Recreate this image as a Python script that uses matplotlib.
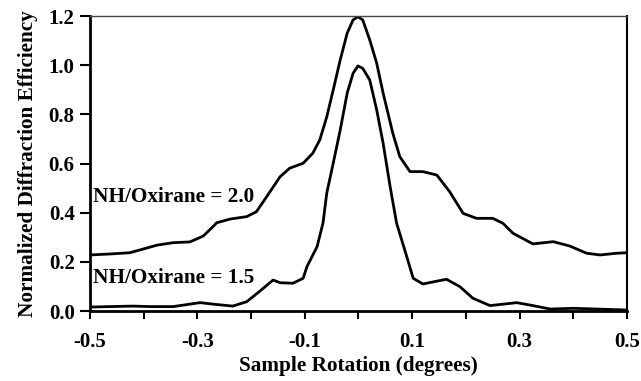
import numpy as np
import matplotlib
matplotlib.use('Agg')
from matplotlib import pyplot as plt

# NH/Oxirane = 2.0 curve
x_20 = [-0.5, -0.463, -0.426, -0.401, -0.375, -0.345, -0.314, -0.289, -0.271, -0.264,
        -0.239, -0.208, -0.19, -0.171, -0.146, -0.128, -0.103, -0.085, -0.072, -0.059,
        -0.047, -0.034, -0.021, -0.010, -0.001, 0.008, 0.021, 0.034, 0.046, 0.064,
        0.077, 0.096, 0.120, 0.146, 0.170, 0.195, 0.220, 0.250, 0.269, 0.288,
        0.325, 0.363, 0.394, 0.425, 0.450, 0.481, 0.5]
y_20 = [0.228, 0.232, 0.237, 0.252, 0.268, 0.278, 0.281, 0.305, 0.343, 0.359,
        0.374, 0.384, 0.404, 0.465, 0.546, 0.581, 0.601, 0.642, 0.696, 0.790,
        0.899, 1.021, 1.130, 1.184, 1.197, 1.184, 1.103, 1.008, 0.886, 0.723,
        0.628, 0.567, 0.567, 0.553, 0.485, 0.397, 0.377, 0.377, 0.357, 0.316,
        0.273, 0.282, 0.264, 0.235, 0.228, 0.235, 0.237]

# NH/Oxirane = 1.5 curve
x_15 = [-0.5, -0.463, -0.42, -0.388, -0.345, -0.295, -0.271, -0.234, -0.208, -0.183,
        -0.159, -0.146, -0.122, -0.103, -0.096, -0.077, -0.066, -0.059, -0.047, -0.034,
        -0.021, -0.010, -0.001, 0.008, 0.021, 0.034, 0.046, 0.059, 0.071, 0.090,
        0.102, 0.120, 0.152, 0.164, 0.189, 0.213, 0.245, 0.295, 0.325, 0.357,
        0.400, 0.444, 0.5]
y_15 = [0.016, 0.018, 0.020, 0.018, 0.018, 0.034, 0.028, 0.020, 0.038, 0.082,
        0.126, 0.115, 0.113, 0.133, 0.180, 0.262, 0.358, 0.480, 0.601, 0.736,
        0.886, 0.967, 0.997, 0.987, 0.940, 0.818, 0.682, 0.506, 0.358, 0.221,
        0.133, 0.110, 0.124, 0.129, 0.099, 0.052, 0.022, 0.034, 0.022, 0.008,
        0.011, 0.008, 0.004]

xticks = [-0.5, -0.4, -0.3, -0.2, -0.1, 0.0, 0.1, 0.2, 0.3, 0.4, 0.5]
xticklabels = ['-0.5', '', '-0.3', '', '-0.1', '', '0.1', '', '0.3', '', '0.5']
yticks = [0.0, 0.2, 0.4, 0.6, 0.8, 1.0, 1.2]

plt.rcParams['font.family'] = ['Liberation Serif', 'DejaVu Serif']
plt.rcParams['font.weight'] = 'bold'

fig = plt.figure(figsize=(6.41, 3.81), dpi=100)
ax = fig.add_axes([0.1404, 0.1837, 0.8376, 0.7743])

ax.plot(x_20, y_20, color='black', lw=2, solid_joinstyle='round')
ax.plot(x_15, y_15, color='black', lw=2, solid_joinstyle='round')

ax.text(-0.494, 0.464, 'NH/Oxirane = 2.0', fontsize=15.3, fontweight='bold', va='center', ha='left')
ax.text(-0.494, 0.134, 'NH/Oxirane = 1.5', fontsize=15.3, fontweight='bold', va='center', ha='left')

ax.set_xlim(-0.5, 0.5)
ax.set_ylim(0, 1.2)
ax.set_xticks(xticks)
ax.set_xticklabels(xticklabels)
ax.set_yticks(yticks)
ax.set_yticklabels([f'{v:.1f}' for v in yticks])
ax.tick_params(axis='both', direction='out', width=1.5, labelsize=15)
ax.tick_params(axis='y', length=7, pad=4)
ax.tick_params(axis='x', length=6, pad=9)

for side in ['left', 'bottom']:
    ax.spines[side].set_linewidth(2)
ax.spines['right'].set_linewidth(1.5)
ax.spines['top'].set_linewidth(1)
ax.spines['top'].set_color('#444444')

ax.set_xlabel('Sample Rotation (degrees)', fontsize=15.3, fontweight='bold', labelpad=3)
ax.set_ylabel('Normalized Diffraction Efficiency', fontsize=15.3, fontweight='bold', labelpad=8)

fig.savefig('out.png', dpi=100)
